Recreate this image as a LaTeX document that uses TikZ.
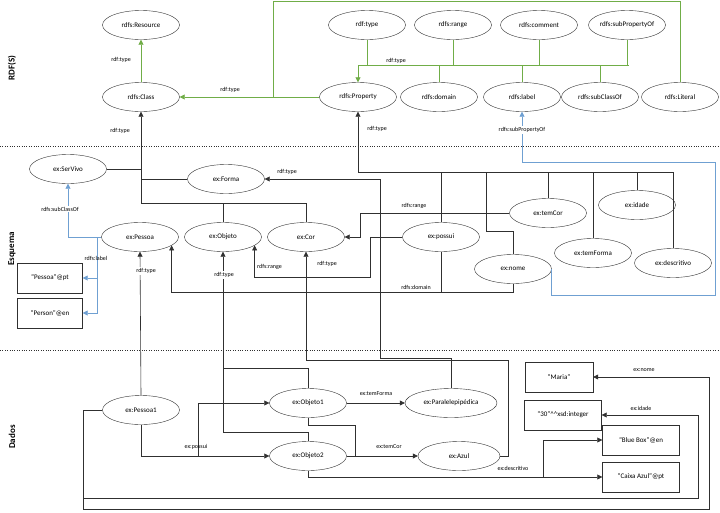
\documentclass[tikz,border=0pt]{standalone}
\usepackage{fontspec}
\setmainfont{Carlito}
\usetikzlibrary{shapes.geometric,arrows.meta}
\definecolor{gr}{HTML}{70AD47}
\definecolor{bl}{HTML}{6FA0D2}
\definecolor{dk}{HTML}{303030}
\begin{document}
\begin{tikzpicture}[x=1pt,y=-1pt,
 ell/.style={ellipse,draw=dk,minimum width=77,minimum height=29,inner sep=0,font=\fontsize{7}{8}\selectfont},
 rbox/.style={rectangle,draw=dk,minimum width=77,minimum height=30,inner sep=0,font=\fontsize{7}{8}\selectfont},
 ln/.style={draw=dk,line width=0.6pt},
 ar/.style={ln,-{Triangle[width=5pt,length=5pt]}},
 g/.style={draw=gr,line width=0.8pt},
 ga/.style={g,-{Triangle[width=5pt,length=5pt]}},
 b/.style={draw=bl,line width=0.8pt},
 ba/.style={b,-{Triangle[width=5pt,length=5pt]}},
 lab/.style={font=\fontsize{6}{7}\selectfont,inner sep=1pt},
 labw/.style={lab,fill=white},
 sec/.style={rotate=90,font=\fontsize{9}{10}\selectfont\bfseries}]
\useasboundingbox (0,0) rectangle (720,512);
\fill[white] (0,0) rectangle (720,512);
% separators
\draw[dotted,dk] (0,146) -- (720,146);
\draw[dotted,dk] (0,350) -- (720,350);
\node[sec] (sRDF) at (12,68) {RDF(S)};
\node[sec] (sEsq) at (12,249) {Esquema};
\node[sec] (sDad) at (12,437) {Dados};
% RDF(S) nodes
\node[ell] (Resource) at (141,25) {rdfs:Resource};
\node[ell] (Class) at (141,97) {rdfs:Class};
\node[ell] (type) at (367,25) {rdf:type};
\node[ell] (range) at (453,25) {rdfs:range};
\node[ell] (comment) at (539,25) {rdfs:comment};
\node[ell] (subP) at (627,25) {rdfs:subPropertyOf};
\node[ell] (Property) at (358,97) {rdfs:Property};
\node[ell] (domain) at (439,97) {rdfs:domain};
\node[ell] (label) at (522,97) {rdfs:label};
\node[ell] (subC) at (600,97) {rdfs:subClassOf};
\node[ell] (Literal) at (680,97) {rdfs:Literal};
% schema nodes
\node[ell] (SerVivo) at (68,169) {ex:SerVivo};
\node[ell] (Forma) at (226,179) {ex:Forma};
\node[ell] (Pessoa) at (140,237) {ex:Pessoa};
\node[ell] (Objeto) at (223,237) {ex:Objeto};
\node[ell] (Cor) at (306,237) {ex:Cor};
\node[ell] (possui) at (441,237) {ex:possui};
\node[ell] (temCor) at (548,213) {ex:temCor};
\node[ell] (idade) at (637,205) {ex:idade};
\node[ell] (temForma) at (593,253) {ex:temForma};
\node[ell] (descr) at (673,263) {ex:descritivo};
\node[ell] (nome) at (513,269) {ex:nome};
\node[rbox,minimum width=65] (pt) at (50,278) {“Pessoa”@pt};
\node[rbox,minimum width=65] (en) at (50,313) {“Person”@en};
% data nodes
\node[ell] (Pessoa1) at (141,410) {ex:Pessoa1};
\node[ell] (Objeto1) at (308,403) {ex:Objeto1};
\node[ell] (Objeto2) at (308,456) {ex:Objeto2};
\node[ell,minimum width=92] (Para) at (451,403) {ex:Paralelepipédica};
\node[ell,minimum width=82] (Azul) at (459,456) {ex:Azul};
\node[rbox,minimum width=68] (Maria) at (559,377) {“Maria”};
\node[rbox] (thirty) at (563,415) {“30”\textasciicircum\textasciicircum xsd:integer};
\node[rbox] (BlueBox) at (641,440) {“Blue Box”@en};
\node[rbox] (Caixa) at (641,477) {“Caixa Azul”@pt};
% coordinates
\coordinate (gbus) at (0,65);
\coordinate (pbus) at (0,172);
\coordinate (cbus) at (0,203);
\coordinate (r277) at (0,277);
\coordinate (d292) at (0,292);
% green
\draw[ga] (Class) -- (Resource);
\draw[ga] (Property) -- (Class);
\draw[g] (Literal.north) |- (273,1) -- (273,97);
\draw[g] (358,65) -- (629,65);
\draw[ga] (358,65) -- (Property.north);
\foreach \n in {type,range,comment,subP}{\draw[g] (\n.south) -- (\n.south |- gbus);}
\foreach \n in {domain,label,subC}{\draw[g] (\n.north) -- (\n.north |- gbus);}
% schema black
\draw[ar] (Class.south |- cbus) -- (Class.south);
\draw[ln] (Class.south |- cbus) -| (Cor.north);
\draw[ln] (Objeto.north) -- (Objeto.north |- cbus);
\draw[ln] (SerVivo.east) -- (SerVivo.east -| Class.south);
\draw[ln] (Forma.west) -- (Forma.west -| Class.south);
\draw[ar] (Property.south |- pbus) -- (Property.south);
\draw[ln] (Property.south |- pbus) -- (descr.north |- pbus);
\foreach \n in {possui,temCor,temForma,idade,descr}{\draw[ln] (\n.north) -- (\n.north |- pbus);}
\draw[ln] (486,172) -- (486,231) -| (nome.north);
\draw[ar] (Para.north) |- (380,358) |- (Forma.east);
\draw[ar] (temCor.west) -- (360,213) |- (Cor.east);
\draw[ar] (possui.west) -- (370,237) |- (Objeto.-15 |- r277) -- (Objeto.-15);
\draw[ar] (nome.south) |- (Pessoa.-15 |- d292) -- (Pessoa.-15);
\draw[ln] (possui.south) -- (possui.south |- d292);
\draw[ar] (Azul.east) -| (508,360) -| (Cor.south);
\draw[ar] (Objeto1.north) |- (223,368) -- (Objeto.south);
\draw[ln] (Objeto2.north) |- (223,432) -- (223,368);
\draw[ar] (Pessoa1.north) -- (Pessoa.south);
% blue
\draw[ba] (Pessoa.west) -| (SerVivo.south);
\draw[ba] (97,237) |- (pt.east);
\draw[ba] (97,237) |- (en.east);
\draw[ba] (nome.east) |- (715,295) |- (522,162) -- (label.south);
% data
\draw[ar] (Pessoa1.south) |- (Objeto2.west);
\draw[ar] (198,456) |- (Objeto1.west);
\draw[ar] (Objeto1) -- (Para);
\draw[ar] (Objeto2) -- (Azul);
\draw[ln] (Objeto1.south) |- (355,425) -- (355,456);
\draw[ar] (Objeto2.south) |- (Caixa.west);
\draw[ar] (543,477) |- (BlueBox.west);
\draw[ar] (Pessoa1.west) -| (83,498) -| (698,415) -- (thirty.east);
\draw[ar] (83,498) -- (83,509) -| (709,377) -- (Maria.east);
% labels
\node[lab] (l1) at (121,60) {rdf:type};
\node[lab] (l2) at (230,90) {rdf:type};
\node[lab] (l3) at (396,61) {rdf:type};
\node[labw] (l4) at (120,131) {rdf:type};
\node[labw] (l5) at (377,129) {rdf:type};
\node[labw] (l6) at (522,130) {rdfs:subPropertyOf};
\node[lab] (l7) at (287,172) {rdf:type};
\node[labw] (l8) at (60,209) {rdfs:subClassOf};
\node[lab] (l9) at (96,258) {rdfs:label};
\node[labw] (l10) at (146,271) {rdf:type};
\node[labw] (l11) at (224,275) {rdf:type};
\node[lab,anchor=west] (l12) at (256,267) {rdfs:range};
\node[lab] (l13) at (327,264) {rdf:type};
\node[lab] (l14) at (414,206) {rdfs:range};
\node[lab] (l15) at (416,287) {rdfs:domain};
\node[lab] (l16) at (196,447) {ex:possui};
\node[lab] (l17) at (376,394) {ex:temForma};
\node[lab] (l18) at (389,447) {ex:temCor};
\node[lab] (l19) at (513,468) {ex:descritivo};
\node[lab] (l20) at (641,408) {ex:idade};
\node[lab] (l21) at (644,370) {ex:nome};
\end{tikzpicture}
\end{document}
